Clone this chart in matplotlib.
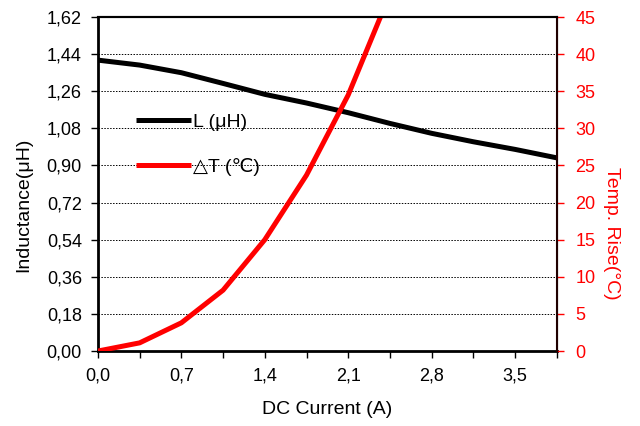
import matplotlib.pyplot as plt
from matplotlib.ticker import FuncFormatter, MultipleLocator

plt.rcParams['font.family'] = ['Liberation Sans', 'DejaVu Sans']

# DC current steps (A)
current = [0.0, 0.35, 0.7, 1.05, 1.4, 1.75, 2.1, 2.45, 2.8, 3.15, 3.5, 3.85]
# inductance (uH)
inductance = [1.411, 1.387, 1.350, 1.298, 1.245, 1.203, 1.156, 1.104, 1.056, 1.015, 0.978, 0.937]
# temperature rise (C), curve leaves the chart above 45
temp_current = [0.0, 0.35, 0.7, 1.05, 1.4, 1.75, 2.1, 2.45]
temp_rise = [0.0, 1.1, 3.8, 8.2, 15.0, 23.7, 34.5, 48.1]

def comma(decimals):
    return FuncFormatter(lambda v, pos: f"{v:.{decimals}f}".replace(".", ","))

fig = plt.figure(figsize=(6.4, 4.26), dpi=100)
ax = fig.add_axes([0.153, 0.176, 0.717, 0.784])
ax2 = ax.twinx()

l1, = ax.plot(current, inductance, color='black', lw=3.6, solid_capstyle='butt', label='L (μH)')
l2, = ax2.plot(temp_current, temp_rise, color='#ff0000', lw=3.6, solid_capstyle='butt', label='△T (℃)')

ax.set_xlim(0, 3.85)
ax.set_ylim(0, 1.62)
ax2.set_ylim(0, 45)

ax.xaxis.set_major_locator(MultipleLocator(0.7))
ax.xaxis.set_minor_locator(MultipleLocator(0.35))
ax.yaxis.set_major_locator(MultipleLocator(0.18))
ax2.yaxis.set_major_locator(MultipleLocator(5))
ax.xaxis.set_major_formatter(comma(1))
ax.yaxis.set_major_formatter(comma(2))

ax.grid(axis='y', color='black', ls=(0, (1.5, 1.5)), lw=0.7)
ax.set_axisbelow(True)

ax.tick_params(axis='x', which='both', direction='out', length=5, width=1, labelsize=13, pad=7)
ax.tick_params(axis='y', direction='out', length=5, width=1, labelsize=13, pad=6.5)
ax2.tick_params(axis='y', direction='out', length=5, width=1, labelsize=13, colors='#ff0000', pad=8.5)

for s in ['left', 'bottom']:
    ax.spines[s].set_linewidth(2)
ax.spines['top'].set_linewidth(1.5)
ax2.spines['top'].set_linewidth(1.5)
ax2.spines['right'].set_linewidth(1.5)
ax2.spines['right'].set_color('#200000')
ax2.spines['left'].set_visible(False)
ax2.spines['bottom'].set_visible(False)

ax.set_xlabel('DC Current (A)', fontsize=14, labelpad=12)
ax.set_ylabel('Inductance(μH)', fontsize=14, va='bottom')
ax.yaxis.set_label_coords(-0.144, 0.437)
ax2.set_ylabel('Temp. Rise(°C)', fontsize=14, color='#ff0000', rotation=270, va='bottom')
ax2.yaxis.set_label_coords(1.100, 0.353)

ax2.legend(handles=[l1, l2], loc='upper left', bbox_to_anchor=(0.045, 0.763), frameon=False,
           fontsize=14, handlelength=2.83, handletextpad=0.1, labelspacing=1.35)

fig.savefig('out.png', dpi=100)
